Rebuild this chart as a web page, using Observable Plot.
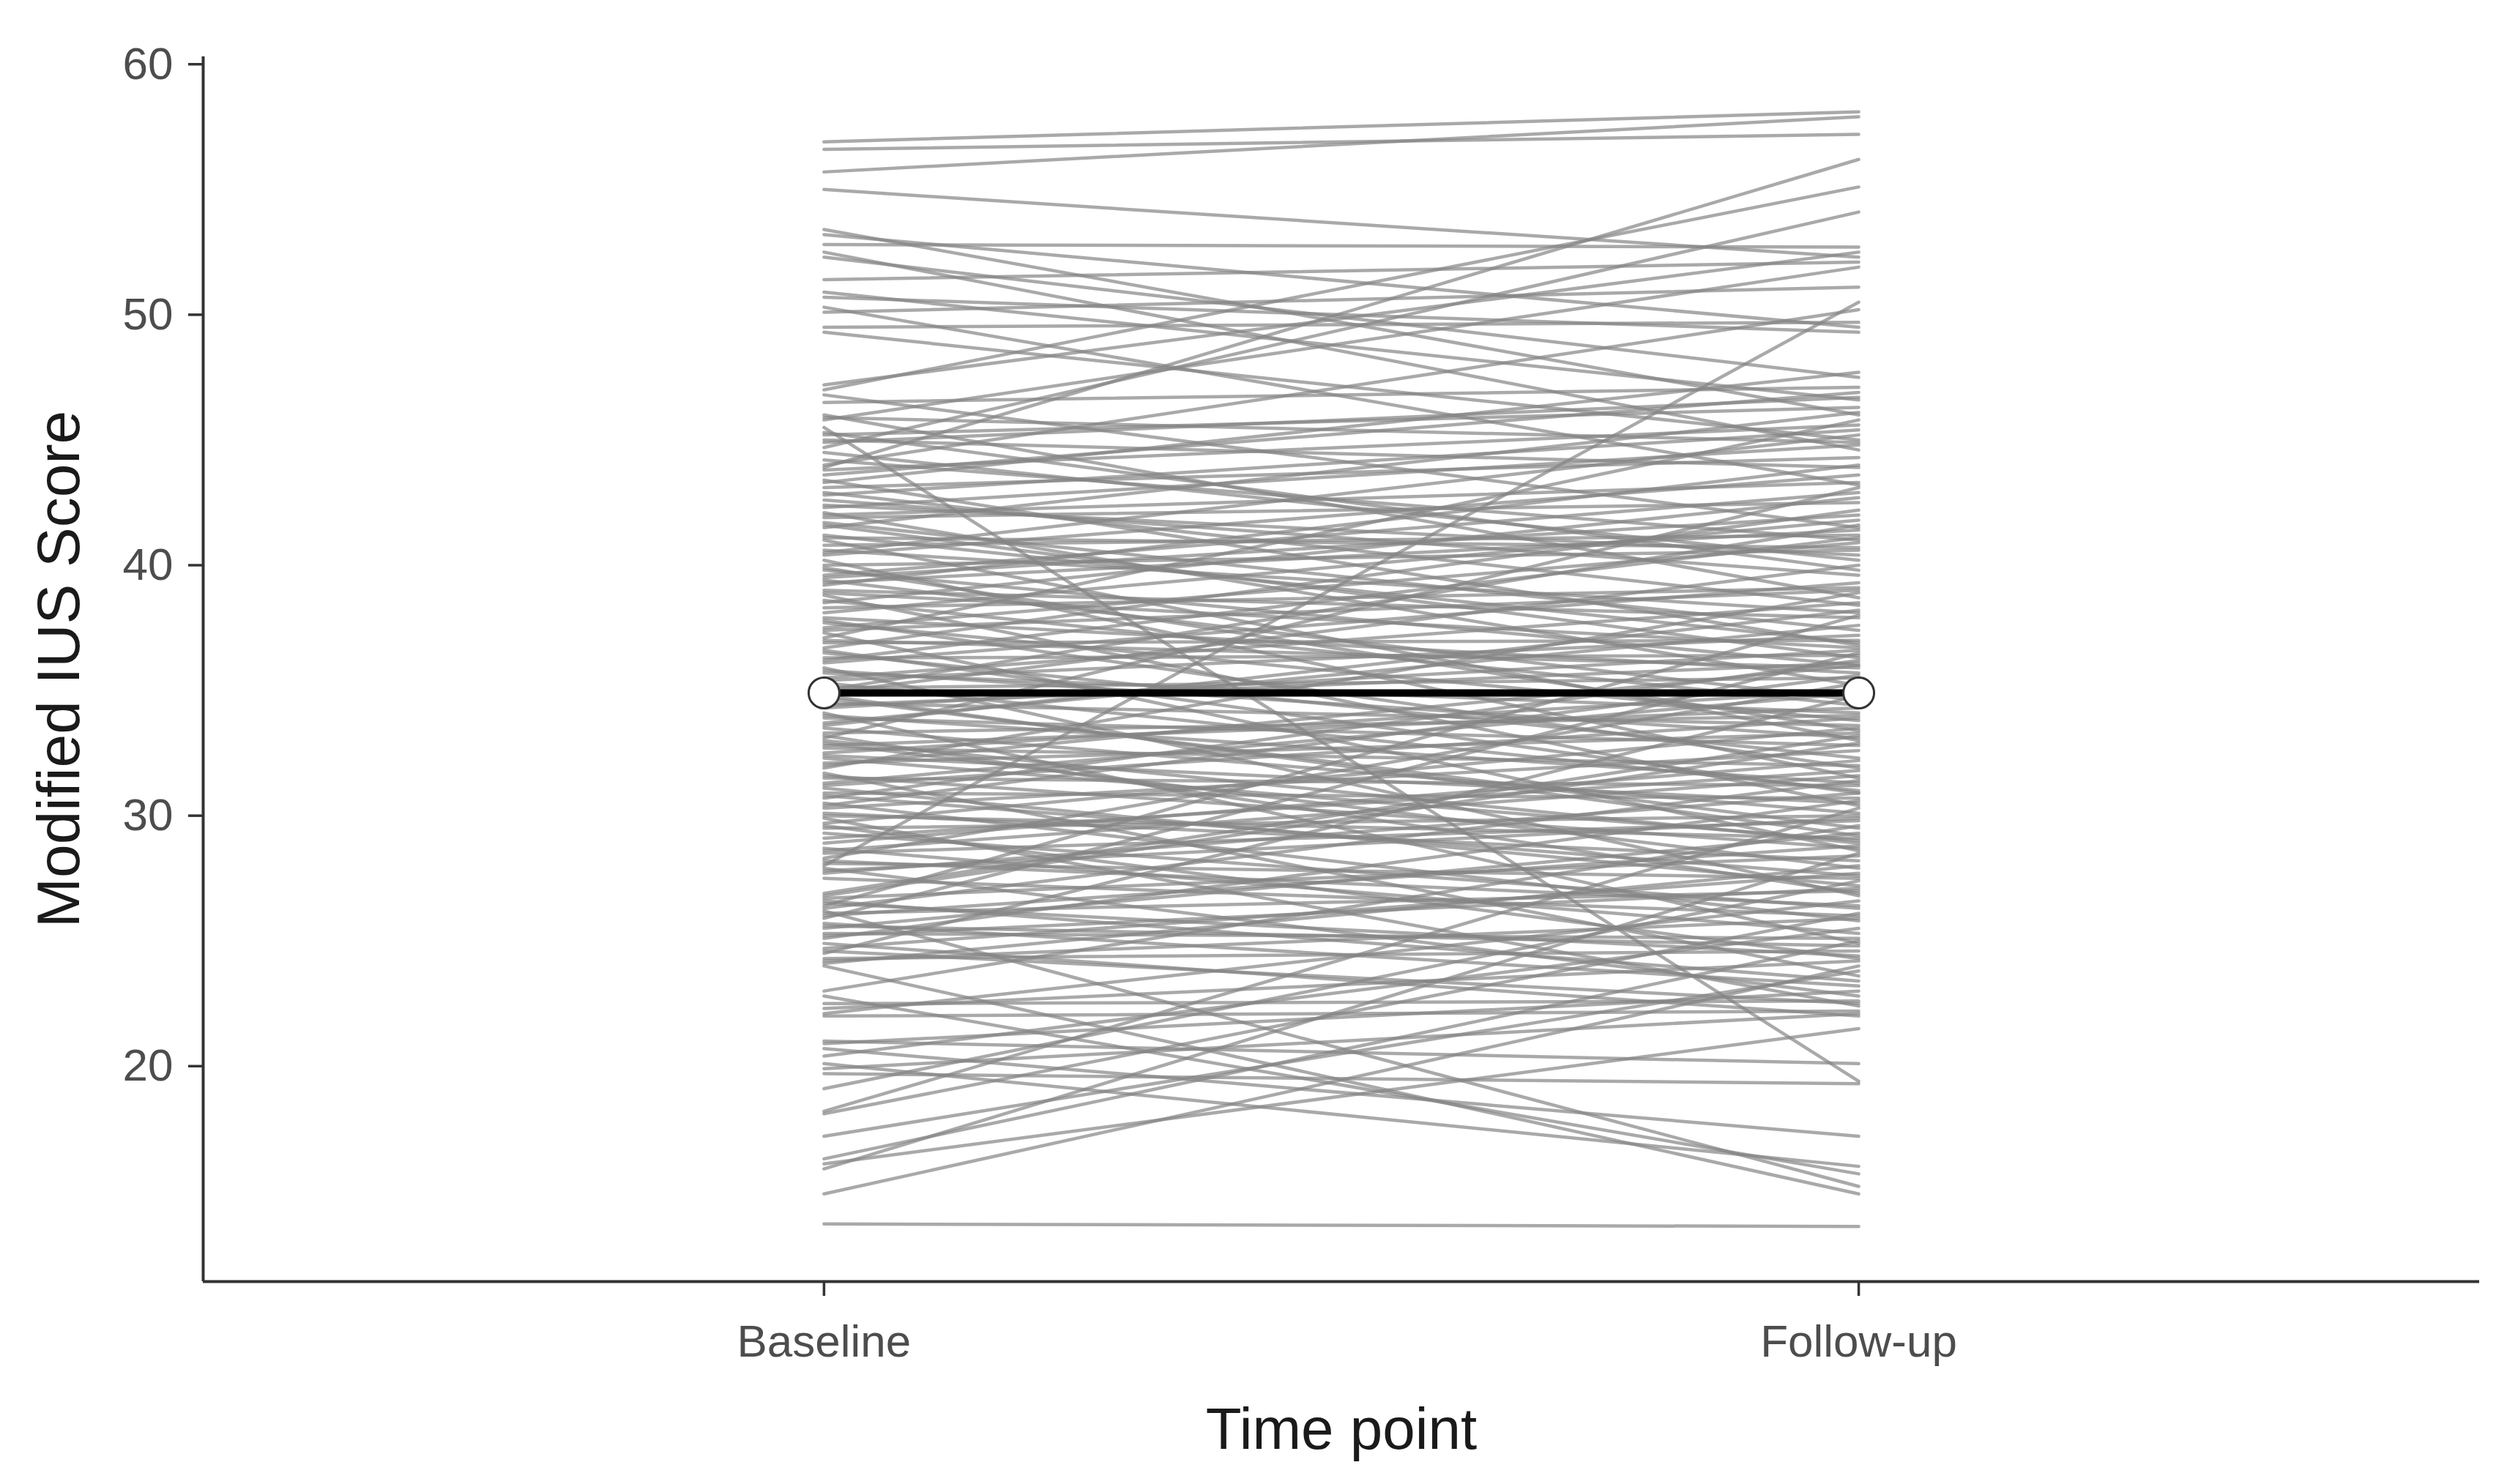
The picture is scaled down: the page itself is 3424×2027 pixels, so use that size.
<!DOCTYPE html>
<html>
<head>
<meta charset="utf-8">
<script src="https://cdn.jsdelivr.net/npm/d3@7"></script>
<script src="https://cdn.jsdelivr.net/npm/@observablehq/plot@0.6"></script>
<style>
  html, body { margin: 0; padding: 0; background: #ffffff; }
</style>
</head>
<body>
<div id="chart"></div>
<script>
const timepoints = ["Baseline", "Follow-up"];
const yTicks = [20, 30, 40, 50, 60];

const baseline = [
  56.9,56.6,55.7,55.0,53.4,53.2,52.8,52.5,52.3,51.4,50.9,50.7,50.3,50.1,49.5,49.3,
  47.2,47.0,46.8,46.5,46.0,45.8,45.5,45.2,45.0,44.7,44.5,43.9,43.6,43.4,43.3,43.1,
  42.8,42.6,42.3,42.1,41.9,41.7,41.5,41.0,40.8,40.6,40.4,40.2,40.0,39.8,39.6,39.4,39.2,39.0,38.8,38.3,
  38.1,37.9,37.7,37.5,37.3,36.9,36.7,36.5,36.3,36.1,35.9,35.7,35.5,35.3,35.1,34.9,34.7,34.5,34.3,34.1,
  33.9,33.7,33.5,33.3,33.1,32.9,32.7,32.5,32.3,32.1,31.9,31.7,31.5,31.3,31.1,30.9,30.7,30.5,30.3,30.1,
  29.9,29.7,29.5,29.3,29.1,39.5,41.2,37.1,35.0,33.0,38.6,42.4,
  28.9,28.7,28.5,28.3,28.1,27.9,27.7,27.5,26.9,26.7,26.5,26.3,26.1,25.9,25.7,25.5,25.3,25.1,24.9,24.7,
  24.5,24.3,24.1,26.4,26.8,
  23.0,22.5,22.3,22.1,22.0,20.9,20.7,20.4,20.1,19.9,19.7,19.1,18.2,18.1,17.2,16.3,16.1,15.9,14.9,13.7,
  26.2,24.0,22.8,21.0,28.0,44.0,
  45.9,45.3,44.9,44.2,43.8,42.9,42.0,41.6,41.1,40.5,39.9,39.3,38.9,38.5,37.8,37.4,37.0,36.6,36.2,35.8,
  35.4,34.8,34.4,34.0,33.6,33.2,32.8,32.4,32.0,31.6,31.2,30.8,30.4,30.0,29.6,28.6,28.2,27.8,26.6,26.0,
  25.6,25.2,24.6,24.2
];

const followUp = [
  58.1,57.2,57.9,52.3,46.0,49.5,52.7,44.6,47.5,52.1,46.6,49.3,43.2,51.1,49.7,45.0,
  52.5,55.1,41.5,47.1,38.7,51.9,19.4,46.3,43.9,54.1,40.2,56.2,46.9,36.8,47.7,44.3,
  45.4,39.6,44.8,35.2,42.5,37.4,46.1,33.0,41.2,38.1,43.6,31.5,40.6,36.0,42.9,34.6,44.0,37.9,30.4,39.1,
  41.8,35.7,33.8,40.9,28.6,37.0,42.2,32.3,36.4,39.3,26.8,34.1,38.5,31.0,35.5,40.0,29.5,33.6,36.6,24.9,
  32.8,37.6,30.1,34.0,43.1,27.9,32.0,35.0,29.0,33.3,38.9,23.6,31.2,34.9,27.2,30.7,36.2,25.8,32.6,28.2,
  22.4,33.5,30.0,26.3,31.8,42.0,36.9,45.8,41.6,28.9,34.4,40.4,
  32.2,25.3,29.8,35.3,27.5,22.8,30.9,26.0,33.2,28.4,24.4,31.4,27.0,36.5,23.2,29.3,25.1,30.6,22.0,27.7,
  34.8,24.6,28.0,38.0,32.9,
  29.6,22.6,24.2,26.6,22.2,23.0,17.2,25.5,16.0,22.1,19.3,27.4,30.3,26.1,23.8,25.0,21.5,28.5,24.0,13.6,
  15.2,14.9,15.7,20.1,50.5,50.2,
  44.9,39.8,46.7,41.0,45.6,38.4,43.3,36.3,40.7,45.2,33.4,41.4,36.7,42.7,31.9,39.0,35.9,30.9,41.1,33.1,
  37.2,29.2,36.1,31.3,38.2,26.9,34.3,30.5,36.0,28.7,33.9,27.6,35.6,29.1,24.3,31.6,26.4,29.9,23.4,28.8,
  24.8,27.1,22.5,25.9
];

const meanScores = [34.9, 34.9];

// long table: one row per participant per time point (x position = category index + 1)
const rows = baseline.flatMap((b, i) => [
  {id: i, t: 1, score: b},
  {id: i, t: 2, score: followUp[i]}
]);
const meanRows = timepoints.map((name, k) => ({t: k + 1, score: meanScores[k]}));

const xDomain = [0.4, 2.6];
const yDomain = [11.4, 60.3];

const chart = Plot.plot({
  width: 3424,
  height: 2027,
  marginLeft: 277,
  marginRight: 38,
  marginTop: 77,
  marginBottom: 277,
  style: {fontFamily: "'Liberation Sans', Arial, sans-serif", background: "#ffffff"},
  x: {domain: xDomain, axis: null},
  y: {domain: yDomain, axis: null},
  marks: [
    Plot.line(rows, {x: "t", y: "score", z: "id", stroke: "#858585", strokeOpacity: 0.7, strokeWidth: 4.5}),
    Plot.line(meanRows, {x: "t", y: "score", stroke: "#000000", strokeWidth: 10}),
    Plot.dot(meanRows, {x: "t", y: "score", r: 21, fill: "#ffffff", stroke: "#333333", strokeWidth: 3}),
    Plot.ruleX([xDomain[0]], {stroke: "#333333", strokeWidth: 4}),
    Plot.ruleY([yDomain[0]], {stroke: "#333333", strokeWidth: 4}),
    Plot.axisY({ticks: yTicks, tickSize: 20, tickPadding: 21, fontSize: 62, stroke: "#333333", fill: "#4d4d4d", strokeWidth: 3.5, label: null}),
    Plot.axisX({ticks: [1, 2], tickFormat: d => timepoints[d - 1], tickSize: 20, tickPadding: 38, fontSize: 62, stroke: "#333333", fill: "#4d4d4d", strokeWidth: 3.5, label: null}),
    Plot.text(["Time point"], {text: d => d, frameAnchor: "bottom", dy: 228, fontSize: 80, fill: "#1a1a1a"}),
    Plot.text(["Modified IUS Score"], {text: d => d, frameAnchor: "left", textAnchor: "middle", dx: -196, rotate: -90, fontSize: 82, fill: "#1a1a1a"})
  ]
});
document.getElementById("chart").appendChild(chart);
</script>
</body>
</html>
